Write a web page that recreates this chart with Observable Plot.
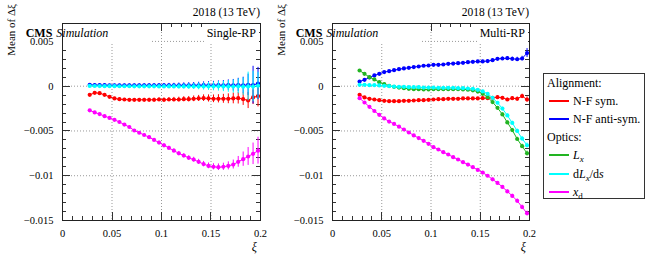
<!DOCTYPE html>
<html><head><meta charset="utf-8">
<script src="https://cdn.jsdelivr.net/npm/d3@7"></script>
<script src="https://cdn.jsdelivr.net/npm/@observablehq/plot@0.6"></script>
<style>
body{margin:0;background:#fff;}
#wrap{position:relative;width:650px;height:260px;overflow:hidden;font-family:"Liberation Serif",serif;color:#000;}
#wrap > svg{position:absolute;top:0;}
#legend{position:absolute;left:543px;top:73px;width:100px;height:124px;border:1px solid #333;background:#fff;}
#legend .row{position:absolute;height:16px;line-height:16px;font-size:12px;white-space:nowrap;}
#legend .sw{position:absolute;left:5px;top:7px;width:20px;height:2px;}
#legend .lab{position:absolute;left:29px;top:0;}
#legend sub{font-size:9px;line-height:0;}
</style></head><body><div id="wrap"><div id="legend"></div></div>
<script>
// ---- bin centres (xi) ----
const xi = [0.0275,0.0325,0.0375,0.0425,0.0475,0.0525,0.0575,0.0625,0.0675,0.0725,
            0.0775,0.0825,0.0875,0.0925,0.0975,0.1025,0.1075,0.1125,0.1175,0.1225,
            0.1275,0.1325,0.1375,0.1425,0.1475,0.1525,0.1575,0.1625,0.1675,0.1725,
            0.1775,0.1825,0.1875,0.1925,0.1975];

// ---- axis ticks ----
const xTicks = [0, 0.05, 0.1, 0.15, 0.2];
const xTickLabels = ["0", "0.05", "0.1", "0.15", "0.2"];
const yTicks = [0.005, 0, -0.005, -0.01, -0.015];
const yTickLabels = ["0.005", "0", "\u22120.005", "\u22120.01", "\u22120.015"];

// ---- Single-RP panel ----
const srNFsym  = [-0.00097,-0.00074,-0.00078,-0.00097,-0.00119,-0.00137,-0.00145,-0.00149,-0.00152,-0.00152,
                  -0.00152,-0.00152,-0.00152,-0.00152,-0.00149,-0.00152,-0.00149,-0.00149,-0.00149,-0.00145,
                  -0.00145,-0.00141,-0.00137,-0.00134,-0.00137,-0.00141,-0.00141,-0.00141,-0.00141,-0.00137,
                  -0.00134,-0.00145,-0.0016,-0.00125,-0.00112];
const srNFsymErr = [0.0001,0.0001,0.0001,0.0001,0.0001,0.00011,0.00012,0.00012,0.00013,0.00014,
                    0.00015,0.00016,0.00017,0.00018,0.0002,0.00021,0.00022,0.00024,0.00026,0.00028,
                    0.0003,0.00032,0.00034,0.00037,0.0004,0.00043,0.00046,0.0005,0.00055,0.0006,
                    0.00065,0.0007,0.0009,0.0008,0.0012];
const srNFanti = [0.00015,0.00012,0.00011,0.00011,0.0001,0.0001,0.0001,0.0001,0.0001,0.0001,
                  0.0001,0.0001,0.0001,0.0001,0.0001,0.0001,0.0001,0.00009,0.0001,0.0001,
                  0.0001,0.0001,0.0001,0.00011,0.0001,0.0001,0.00011,0.0001,0.00012,0.0001,
                  0.00013,0.0001,0.00015,0.00012,0.0003];
const srNFantiErr = [0.0001,0.0001,0.0001,0.0001,0.0001,0.00011,0.00011,0.00012,0.00013,0.00014,
                     0.00015,0.00016,0.00017,0.00018,0.00019,0.0002,0.00021,0.00023,0.00025,0.00027,
                     0.00029,0.00031,0.00034,0.00037,0.0004,0.00044,0.00048,0.00053,0.00058,0.00065,
                     0.00075,0.0009,0.0012,0.0021,0.0018];
const srDLxds  = [0.00003,0.00002,0.00001,0,0,0,-0.00001,-0.00001,-0.00001,-0.00002,
                  -0.00002,-0.00002,-0.00002,-0.00002,-0.00003,-0.00003,-0.00003,-0.00003,-0.00003,-0.00003,
                  -0.00003,-0.00003,-0.00003,-0.00003,-0.00003,-0.00003,-0.00002,-0.00003,-0.00003,-0.00004,
                  -0.00002,-0.00005,-0.00003,-0.00004,0.00005];
const srDLxdsErr = [0.0001,0.0001,0.0001,0.00011,0.00011,0.00012,0.00012,0.00013,0.00014,0.00015,
                    0.00016,0.00017,0.00018,0.00019,0.0002,0.00022,0.00023,0.00025,0.00027,0.00029,
                    0.00031,0.00034,0.00037,0.0004,0.00044,0.00048,0.00053,0.00058,0.00065,0.00073,
                    0.00083,0.00098,0.0016,0.0017,0.0015];
const srXd     = [-0.0027,-0.00293,-0.00312,-0.00335,-0.00354,-0.00376,-0.004,-0.00429,-0.00456,-0.00495,
                  -0.0052,-0.00545,-0.0057,-0.006,-0.0063,-0.0066,-0.0069,-0.0072,-0.0075,-0.00775,
                  -0.008,-0.0082,-0.00845,-0.0087,-0.0089,-0.009,-0.00905,-0.009,-0.0089,-0.00875,
                  -0.00845,-0.00815,-0.00785,-0.00755,-0.0072];
const srXdErr  = [0.00008,0.00008,0.00008,0.00009,0.00009,0.0001,0.0001,0.00011,0.00011,0.00012,
                  0.00013,0.00014,0.00015,0.00016,0.00017,0.00018,0.00019,0.0002,0.00021,0.00022,
                  0.00024,0.00026,0.00028,0.0003,0.00032,0.00034,0.00037,0.0004,0.00045,0.0005,
                  0.0006,0.0008,0.001,0.0012,0.0015];

// ---- Multi-RP panel ----
const mrNFsym  = [-0.00096,-0.00126,-0.00141,-0.00149,-0.00156,-0.00163,-0.00167,-0.00167,-0.00167,-0.00163,
                  -0.00163,-0.0016,-0.00156,-0.00156,-0.00152,-0.00149,-0.00145,-0.00145,-0.00141,-0.00141,
                  -0.00141,-0.00137,-0.00137,-0.00137,-0.00137,-0.00134,-0.00134,-0.0013,-0.00123,-0.0013,
                  -0.00149,-0.00134,-0.00141,-0.00111,-0.00149];
const mrNFsymErr = [0.00008,0.00008,0.00008,0.00008,0.00008,0.00008,0.00008,0.00008,0.00008,0.00008,
                    0.00008,0.00008,0.00008,0.00009,0.00009,0.00009,0.00009,0.00009,0.0001,0.0001,
                    0.0001,0.0001,0.00011,0.00011,0.00012,0.00012,0.00013,0.00013,0.00014,0.00015,
                    0.00016,0.00018,0.0002,0.00022,0.0003];
const mrNFanti = [0.00052,0.00071,0.00097,0.0012,0.00138,0.00157,0.00168,0.00179,0.0019,0.00198,
                  0.00205,0.00213,0.0022,0.00228,0.00231,0.00239,0.00239,0.00242,0.0025,0.00253,
                  0.00257,0.00261,0.00268,0.00272,0.00276,0.00276,0.0028,0.0029,0.00305,0.00309,
                  0.00313,0.00305,0.00301,0.00309,0.0037];
const mrNFantiErr = [0.00008,0.00008,0.00008,0.00008,0.00008,0.00008,0.00008,0.00008,0.00008,0.00008,
                     0.00008,0.00008,0.00008,0.00009,0.00009,0.00009,0.00009,0.00009,0.0001,0.0001,
                     0.0001,0.0001,0.00011,0.00011,0.00012,0.00012,0.00013,0.00014,0.00015,0.00016,
                     0.00018,0.0002,0.00022,0.00025,0.0005];
const mrLx     = [0.00175,0.00138,0.00101,0.00075,0.00045,0.00023,0.00004,-0.00007,-0.00015,-0.00022,
                  -0.00029,-0.00033,-0.00033,-0.00037,-0.00037,-0.00033,-0.00033,-0.00033,-0.00033,-0.00033,
                  -0.00033,-0.00036,-0.0004,-0.00046,-0.0006,-0.00085,-0.00123,-0.00178,-0.00242,-0.00315,
                  -0.00405,-0.0049,-0.0059,-0.0067,-0.0075];
const mrLxErr  = [0.00008,0.00008,0.00008,0.00008,0.00008,0.00008,0.00008,0.00008,0.00008,0.00008,
                  0.00008,0.00008,0.00008,0.00008,0.00008,0.00009,0.00009,0.00009,0.00009,0.0001,
                  0.0001,0.0001,0.0001,0.00011,0.00011,0.00012,0.00012,0.00013,0.00014,0.00015,
                  0.00016,0.00018,0.0002,0.00022,0.00025];
const mrDLxds  = [0.00015,0.00015,0.00011,0.00011,0.00008,0.00004,0,-0.00004,-0.00007,-0.00007,
                  -0.00011,-0.00011,-0.00011,-0.00015,-0.00015,-0.00015,-0.00018,-0.00018,-0.00018,-0.00018,
                  -0.00022,-0.00022,-0.00026,-0.00029,-0.00041,-0.00059,-0.00085,-0.0013,-0.00185,-0.0025,
                  -0.00327,-0.0041,-0.005,-0.00585,-0.0066];
const mrDLxdsErr = [0.00008,0.00008,0.00008,0.00008,0.00008,0.00008,0.00008,0.00008,0.00008,0.00008,
                    0.00008,0.00008,0.00008,0.00008,0.00008,0.00009,0.00009,0.00009,0.00009,0.0001,
                    0.0001,0.0001,0.0001,0.00011,0.00011,0.00012,0.00012,0.00013,0.00014,0.00015,
                    0.00016,0.00018,0.0002,0.00022,0.00025];
const mrXd     = [-0.00134,-0.00182,-0.0023,-0.00277,-0.0032,-0.0036,-0.00395,-0.00422,-0.00452,-0.00484,
                  -0.00517,-0.0055,-0.0058,-0.0061,-0.00644,-0.00681,-0.00707,-0.00737,-0.00763,-0.00793,
                  -0.00819,-0.00849,-0.00875,-0.00905,-0.00935,-0.00965,-0.01,-0.0104,-0.0108,-0.01125,
                  -0.01175,-0.01225,-0.0128,-0.0135,-0.0142];
const mrXdErr  = [0.00008,0.00008,0.00008,0.00008,0.00008,0.00008,0.00008,0.00008,0.00008,0.00008,
                  0.00008,0.00008,0.00008,0.00009,0.00009,0.00009,0.00009,0.00009,0.0001,0.0001,
                  0.0001,0.0001,0.00011,0.00011,0.00012,0.00012,0.00013,0.00013,0.00014,0.00015,
                  0.00016,0.00018,0.0002,0.00022,0.00025];

// ---- series names / colours ----
const seriesNames  = ["N-F sym.", "N-F anti-sym.", "Lx", "dLx/ds", "xd"];
const seriesColors = ["#ff0000", "#0000ff", "#22b422", "#00ffff", "#ff00ff"];

const singleRP = [
  {name: "N-F sym.", values: srNFsym, err: srNFsymErr},
  {name: "N-F anti-sym.", values: srNFanti, err: srNFantiErr},
  {name: "dLx/ds", values: srDLxds, err: srDLxdsErr},
  {name: "xd", values: srXd, err: srXdErr}
];
const multiRP = [
  {name: "N-F sym.", values: mrNFsym, err: mrNFsymErr},
  {name: "N-F anti-sym.", values: mrNFanti, err: mrNFantiErr},
  {name: "Lx", values: mrLx, err: mrLxErr},
  {name: "dLx/ds", values: mrDLxds, err: mrDLxdsErr},
  {name: "xd", values: mrXd, err: mrXdErr}
];

const FONT = "Liberation Serif";
const colorOf = n => seriesColors[seriesNames.indexOf(n)];
const xFmt = d => xTickLabels[xTicks.indexOf(d)];
const yFmt = d => yTickLabels[yTicks.indexOf(d)];
const xMinor = d3.range(0, 0.2001, 0.01);
const yMinor = d3.range(-0.015, 0.00701, 0.001);
const isMult = (v, s) => Math.abs(v / s - Math.round(v / s)) < 1e-6;

function frameTicks() {
  return (index, {x, y}, values, dim) => {
    const L = dim.marginLeft, R = dim.width - dim.marginRight;
    const T = dim.marginTop, B = dim.height - dim.marginBottom;
    const p = d3.path();
    for (const t of xMinor) {
      const X = Math.round(x(t)) + 0.5, len = isMult(t, 0.05) ? 8 : 4;
      p.moveTo(X, B); p.lineTo(X, B - len);
      p.moveTo(X, T); p.lineTo(X, T + len);
    }
    for (const t of yMinor) {
      const Y = Math.round(y(t)) + 0.5, len = isMult(t, 0.005) ? 8 : 4;
      p.moveTo(L, Y); p.lineTo(L + len, Y);
      p.moveTo(R, Y); p.lineTo(R - len, Y);
    }
    const g = d3.create("svg:g");
    g.append("path").attr("d", p.toString()).attr("fill", "none").attr("stroke", "#333").attr("stroke-width", 1);
    return g.node();
  };
}

function annotations(tag, cmsBoxW, tagBoxW) {
  return (index, {x, y}, values, dim) => {
    const L = dim.marginLeft, R = dim.width - dim.marginRight;
    const T = dim.marginTop;
    const g = d3.create("svg:g").attr("fill", "#000").attr("font-family", FONT);
    g.append("rect").attr("x", L + 1).attr("y", T + 1).attr("width", cmsBoxW).attr("height", 19).attr("fill", "#fff");
    g.append("rect").attr("x", R - tagBoxW).attr("y", T + 1).attr("width", tagBoxW - 1).attr("height", 19).attr("fill", "#fff");
    const t = g.append("text").attr("x", L + 5).attr("y", T + 13.5).attr("font-size", 12);
    t.append("tspan").attr("font-weight", "bold").text("CMS");
    t.append("tspan").attr("font-style", "italic").attr("dx", 4).text("Simulation");
    g.append("text").attr("x", R - 4).attr("y", T + 13.5).attr("font-size", 12).attr("text-anchor", "end").text(tag);
    g.append("text").attr("x", R).attr("y", 16).attr("font-size", 11.5).attr("text-anchor", "end").text("2018 (13 TeV)");
    g.append("text").attr("transform", "translate(15,4) rotate(-90)").attr("text-anchor", "end")
      .attr("font-size", 11).text("Mean of \u0394\u03BE");
    g.append("text").attr("x", R - 3).attr("y", 251).attr("font-size", 12).attr("font-style", "italic").attr("text-anchor", "end").text("\u03BE");
    return g.node();
  };
}

function panel(series, tag, marginRight, tagBoxW) {
  const marks = [
    Plot.ruleX(xTicks.filter(t => t > 0 && t < 0.2), {stroke: "#999", strokeDasharray: "1,2"}),
    Plot.ruleY(yTicks.filter(t => t > -0.015), {stroke: "#999", strokeDasharray: "1,2"}),
    frameTicks()
  ];
  for (const s of series) {
    const rows = xi.map((x, i) => ({x, v: s.values[i], e: s.err[i]}));
    const c = colorOf(s.name);
    marks.push(Plot.line(rows, {x: "x", y: "v", stroke: c, strokeWidth: 1}));
    marks.push(Plot.ruleX(rows, {x: "x", y1: d => d.v - d.e, y2: d => d.v + d.e, stroke: c, strokeWidth: 1}));
    marks.push(Plot.dot(rows, {x: "x", y: "v", r: 2.1, fill: c, stroke: "none"}));
  }
  marks.push(annotations(tag, 89, tagBoxW));
  marks.push(Plot.frame({stroke: "#222"}));
  marks.push(Plot.axisX(xTicks, {tickSize: 0, tickPadding: 9, tickFormat: xFmt, label: null, fontSize: 10.5}));
  marks.push(Plot.axisY(yTicks, {tickSize: 0, tickPadding: 9, tickFormat: yFmt, label: null, fontSize: 10.5}));
  return Plot.plot({
    width: 270, height: 260,
    marginLeft: 62, marginRight, marginTop: 23, marginBottom: 40,
    x: {domain: [0, 0.2]},
    y: {domain: [-0.015, 0.007]},
    style: {fontFamily: FONT, fontSize: "10.5px", background: "transparent", color: "#000"},
    marks
  });
}

const wrap = document.getElementById("wrap");
const p1 = panel(singleRP, "Single-RP", 10, 56);
p1.style.left = "0px";
const p2 = panel(multiRP, "Multi-RP", 11, 52);
p2.style.left = "270px";
wrap.insertBefore(p1, wrap.firstChild);
wrap.insertBefore(p2, wrap.firstChild);

// ---- legend ----
const legendRows = [
  {header: "Alignment:"},
  {name: "N-F sym.", html: "N-F sym."},
  {name: "N-F anti-sym.", html: "N-F anti-sym."},
  {header: "Optics:"},
  {name: "Lx", html: "<i>L</i><sub><i>x</i></sub>"},
  {name: "dLx/ds", html: "d<i>L</i><sub><i>x</i></sub>/d<i>s</i>"},
  {name: "xd", html: "<i>x</i><sub>d</sub>"}
];
const leg = document.getElementById("legend");
legendRows.forEach((r, i) => {
  const row = document.createElement("div");
  row.className = "row";
  row.style.top = Math.round(1 + i * 18.1) + "px";
  if (r.header) {
    row.style.left = "3px";
    row.textContent = r.header;
  } else {
    row.style.left = "0px";
    row.style.width = "100px";
    const sw = document.createElement("div");
    sw.className = "sw";
    sw.style.backgroundColor = colorOf(r.name);
    const lab = document.createElement("span");
    lab.className = "lab";
    lab.innerHTML = r.html;
    row.appendChild(sw);
    row.appendChild(lab);
  }
  leg.appendChild(row);
});
</script>
</body></html>
